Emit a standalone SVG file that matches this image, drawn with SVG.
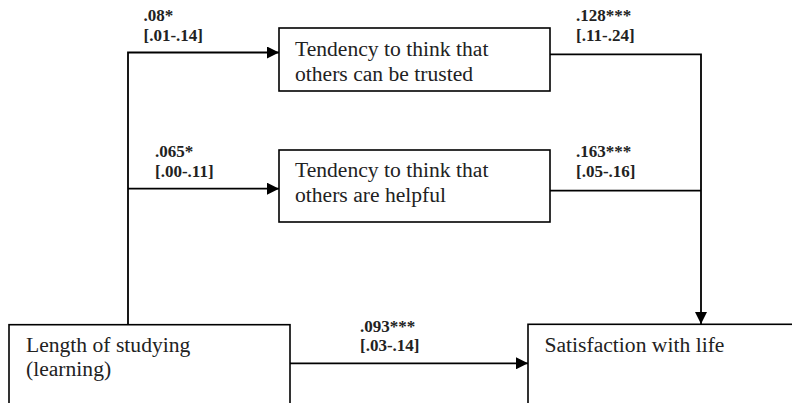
<svg xmlns="http://www.w3.org/2000/svg" width="792" height="403" viewBox="0 0 792 403">
<style>
.box{fill:#fff;stroke:#000;stroke-width:1.6}
.node{font-family:"Liberation Serif","Times New Roman",serif;font-size:21.6px;fill:#222}
.lbl{font-family:"Liberation Serif","Times New Roman",serif;font-size:17px;font-weight:bold;fill:#222}
.conn{fill:none;stroke:#000;stroke-width:1.8}
</style>
<defs>
<marker id="arr" markerWidth="12" markerHeight="12" viewBox="0 0 12 12" refX="12" refY="6" orient="auto" markerUnits="userSpaceOnUse">
<path d="M0,0 L12,6 L0,12 Z" fill="#000"/>
</marker>
</defs>
<rect width="792" height="403" fill="#fff"/>
<g id="connectors">
<path class="conn" d="M128,324 L128,52.5 L279,52.5" marker-end="url(#arr)"/>
<path class="conn" d="M128,188.7 L279,188.7" marker-end="url(#arr)"/>
<path class="conn" d="M550,54.3 L701,54.3 L701,324" marker-end="url(#arr)"/>
<path class="conn" d="M550,190.7 L701,190.7"/>
<path class="conn" d="M290,363.3 L528,363.3" marker-end="url(#arr)"/>
</g>
<g id="labels">
<text class="lbl" x="143.5" y="21">.08*</text>
<text class="lbl" x="143.5" y="40.5">[.01-.14]</text>
<text class="lbl" x="155" y="157">.065*</text>
<text class="lbl" x="155" y="176.5">[.00-.11]</text>
<text class="lbl" x="576" y="21">.128***</text>
<text class="lbl" x="576" y="40.5">[.11-.24]</text>
<text class="lbl" x="576" y="157">.163***</text>
<text class="lbl" x="576" y="176.5">[.05-.16]</text>
<text class="lbl" x="360" y="331.5">.093***</text>
<text class="lbl" x="360" y="351">[.03-.14]</text>
</g>
<g id="node-trusted">
<rect class="box" x="279" y="28" width="271" height="63"/>
<text class="node" x="295" y="56">Tendency to think that</text>
<text class="node" x="295" y="80.5">others can be trusted</text>
</g>
<g id="node-helpful">
<rect class="box" x="279" y="150" width="271" height="72"/>
<text class="node" x="295" y="176.5">Tendency to think that</text>
<text class="node" x="295" y="201.5">others are helpful</text>
</g>
<g id="node-length">
<rect class="box" x="9" y="324.7" width="281" height="100"/>
<text class="node" x="26" y="351.5">Length of studying</text>
<text class="node" x="26" y="375.5">(learning)</text>
</g>
<g id="node-satisfaction">
<rect class="box" x="528" y="324.3" width="300" height="100"/>
<text class="node" x="544.5" y="351.5">Satisfaction with life</text>
</g>
</svg>
